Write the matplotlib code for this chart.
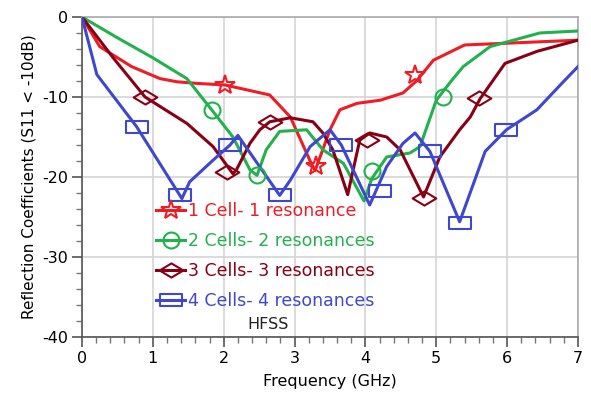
import matplotlib
matplotlib.use("Agg")
import matplotlib.pyplot as plt
from matplotlib.path import Path

plt.rcParams["font.family"] = ["DejaVu Sans"]
plt.rcParams["axes.unicode_minus"] = False

# 1 cell - 1 resonance
freq_1 = [0, 0.25, 0.7, 1.1, 1.34, 1.62, 2.02, 2.65, 2.94, 3.22, 3.29, 3.5, 3.64,
          3.88, 4.21, 4.53, 4.72, 4.96, 5.4, 6.2, 7.0]
s11_1 = [0, -3.7, -6.2, -7.7, -8.1, -8.3, -8.5, -9.75, -12.5, -18.0, -19.2, -14.1, -11.6,
         -10.8, -10.4, -9.5, -8.0, -5.4, -3.5, -3.2, -2.9]
mk_freq_1 = [2.02, 3.3, 4.7]
mk_s11_1 = [-8.5, -18.6, -7.3]

# 2 cells - 2 resonances
freq_2 = [0, 0.5, 1.0, 1.48, 1.83, 2.13, 2.37, 2.47, 2.6, 2.79, 3.17, 3.4, 3.69, 3.98,
          4.09, 4.3, 4.63, 4.77, 5.0, 5.22, 5.38, 5.76, 6.46, 7.0]
s11_2 = [0, -2.6, -5.1, -7.7, -11.6, -15.0, -19.1, -19.8, -16.6, -14.3, -14.1, -16.6, -18.3, -23.0,
         -20.2, -17.5, -17.0, -16.2, -10.4, -7.9, -6.2, -3.7, -2.0, -1.75]
mk_freq_2 = [1.83, 2.47, 4.09, 5.1]
mk_s11_2 = [-11.6, -19.7, -19.2, -10.0]

# 3 cells - 3 resonances
freq_3 = [0, 0.44, 0.89, 1.48, 1.85, 2.13, 2.18, 2.37, 2.51, 2.65, 2.94, 3.26, 3.4, 3.54,
          3.75, 3.92, 4.06, 4.3, 4.49, 4.82, 5.05, 5.33, 5.48, 5.62, 5.97, 6.42, 7.0]
s11_3 = [0, -5.1, -10.0, -13.3, -16.2, -19.6, -19.1, -15.8, -14.1, -13.1, -12.6, -13.1, -14.5, -16.6,
         -22.2, -15.4, -14.5, -15.0, -16.6, -22.5, -17.5, -14.1, -12.5, -10.2, -5.8, -4.3, -2.9]
mk_freq_3 = [0.89, 2.04, 2.65, 4.02, 4.82, 5.6]
mk_s11_3 = [-10.0, -19.4, -13.1, -15.4, -22.6, -10.1]

# 4 cells - 4 resonances
freq_4 = [0, 0.21, 0.77, 1.41, 1.52, 1.85, 2.09, 2.2, 2.79, 2.94, 3.22, 3.5, 3.66, 4.06,
          4.3, 4.53, 4.7, 4.91, 5.33, 5.69, 5.99, 6.42, 6.75, 7.0]
s11_4 = [0, -7.2, -13.7, -22.7, -20.6, -17.9, -16.0, -14.8, -22.3, -20.4, -16.2, -14.1, -16.0, -23.5,
         -18.7, -15.8, -14.5, -16.8, -25.6, -16.8, -14.1, -11.6, -8.5, -6.2]
mk_freq_4 = [0.77, 1.38, 2.09, 2.79, 3.66, 4.2, 4.91, 5.33, 5.99]
mk_s11_4 = [-13.7, -22.2, -16.0, -22.3, -16.0, -21.7, -16.8, -25.7, -14.1]

labels = ["1 Cell- 1 resonance", "2 Cells- 2 resonances",
          "3 Cells- 3 resonances", "4 Cells- 4 resonances"]
colors = ["#ee1c24", "#22b14c", "#880015", "#3f48cc"]

# wide open rectangle and diamond markers
rect = Path([(-1, -0.55), (1, -0.55), (1, 0.55), (-1, 0.55), (-1, -0.55)],
            [Path.MOVETO, Path.LINETO, Path.LINETO, Path.LINETO, Path.CLOSEPOLY])
diam = Path([(-1, 0), (0, 0.6), (1, 0), (0, -0.6), (-1, 0)],
            [Path.MOVETO, Path.LINETO, Path.LINETO, Path.LINETO, Path.CLOSEPOLY])

series = [
    (freq_1, s11_1, mk_freq_1, mk_s11_1, "*", 15),
    (freq_2, s11_2, mk_freq_2, mk_s11_2, "o", 11.5),
    (freq_3, s11_3, mk_freq_3, mk_s11_3, diam, 17),
    (freq_4, s11_4, mk_freq_4, mk_s11_4, rect, 16),
]

fig = plt.figure(figsize=(5.91, 3.94), dpi=100)
ax = fig.add_axes([0.1387, 0.1447, 0.8393, 0.8122])

handles = []
for (f, s, mf, ms, mk, sz), c, lab in zip(series, colors, labels):
    ax.plot(f, s, color=c, lw=2.2, zorder=3)
    ax.plot(mf, ms, ls="none", marker=mk, ms=sz, mfc="none", mec=c, mew=1.5, zorder=4)
    h, = ax.plot([], [], color=c, lw=2.2, marker=mk, ms=sz, mfc="none", mec=c, mew=1.5,
                 label=lab)
    handles.append(h)

ax.set_xlim(0, 7)
ax.set_ylim(-40, 0)
ax.set_xticks(range(0, 8))
ax.set_yticks([0, -10, -20, -30, -40])
ax.set_xticks([i * 0.2 for i in range(36)], minor=True)
ax.set_yticks([-i * 2 for i in range(21)], minor=True)
ax.tick_params(which="major", direction="out", length=7, width=1.2, color="#555555",
               labelsize=11.5, pad=3)
ax.tick_params(which="minor", direction="out", length=4, width=1.0, color="#777777")
ax.grid(True, which="major", color="#d4d4d4", lw=1.2)
ax.set_axisbelow(True)
for side in ("top", "right"):
    ax.spines[side].set_color("#aaaaaa")
    ax.spines[side].set_linewidth(1.2)
for side in ("left", "bottom"):
    ax.spines[side].set_color("#555555")
    ax.spines[side].set_linewidth(1.2)

ax.set_xlabel("Frequency (GHz)", fontsize=11.5, labelpad=6)
ax.set_ylabel("Reflection Coefficients (S11 < -10dB)", fontsize=11, labelpad=4)

ax.legend(handles=handles, loc="upper left", bbox_to_anchor=(0.135, 0.443),
          frameon=False, fontsize=12.5, labelcolor="linecolor", handlelength=1.7,
          handletextpad=0.15, labelspacing=0.68, borderaxespad=0)

ax.text(0.375, 0.038, "HFSS", transform=ax.transAxes, fontsize=11.5, ha="center",
        va="center", color="#222222")

fig.savefig("out.png", dpi=100)
